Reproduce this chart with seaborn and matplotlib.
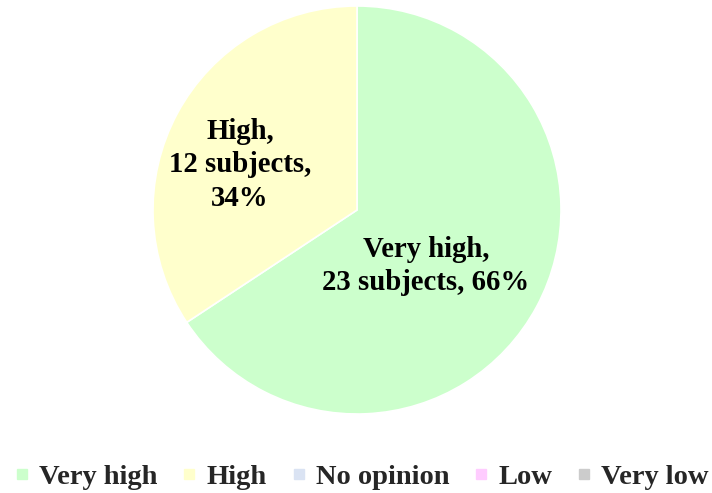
import matplotlib
matplotlib.use("Agg")
import matplotlib.pyplot as plt
from matplotlib.lines import Line2D
import seaborn as sns

categories = ["Very high", "High", "No opinion", "Low", "Very low"]
subjects = [23, 12, 0, 0, 0]
percents = [66, 34, 0, 0, 0]
colors = ["#CCFFCC", "#FFFFCC", "#DAE3F3", "#FFCCFF", "#CCCCCC"]

sns.set_theme(style="white")
plt.rcParams["font.family"] = ["Liberation Serif", "DejaVu Serif"]

fig = plt.figure(figsize=(7.12, 4.93), dpi=100)
W, H = 712, 493
cx, cy, r = 357, 210, 204
ax = fig.add_axes([(cx - r) / W, (H - cy - r) / H, 2 * r / W, 2 * r / H])

vals = [v for v in subjects if v > 0]
cols = [c for c, v in zip(colors, subjects) if v > 0]
ax.pie(vals, colors=cols, startangle=90, counterclock=False, radius=1,
       wedgeprops=dict(edgecolor="white", linewidth=1.2))
ax.set_xlim(-1, 1)
ax.set_ylim(-1, 1)
ax.set_aspect("equal")
ax.axis("off")

label_pos = {"Very high": ((426 - cx) / r, (cy - 266) / r),
             "High": ((240 - cx) / r, (cy - 165) / r)}
label_text = {
    "Very high": f"Very high,\n{subjects[0]} subjects, {percents[0]}%",
    "High": f"High,\n{subjects[1]} subjects,\n{percents[1]}%",
}
for k, (x, y) in label_pos.items():
    ax.text(x, y, label_text[k], ha="center", va="center", fontsize=20.7,
            fontweight="bold", linespacing=1.33, color="black")

handles = [Line2D([0], [0], marker="s", linestyle="none", markersize=7,
                  markerfacecolor=c, markeredgecolor=c) for c in colors]
fig.legend(handles, categories, loc="center", bbox_to_anchor=(0.508, 1 - 477 / H),
           ncol=5, frameon=False, prop=dict(size=20.5, weight="bold"),
           handletextpad=0.35, columnspacing=0.87, handlelength=0.5,
           borderpad=0, borderaxespad=0)

fig.savefig("out.png", dpi=100)
